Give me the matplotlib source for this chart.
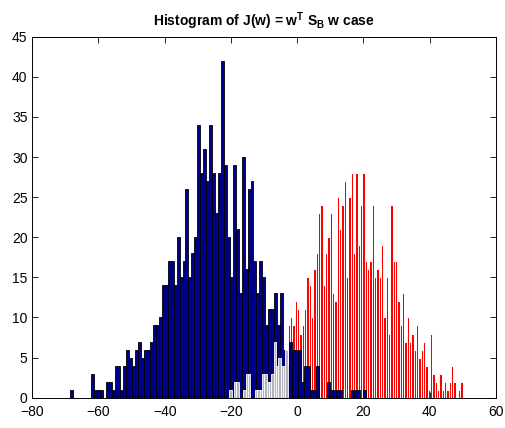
import numpy as np
import matplotlib
matplotlib.use("Agg")
from matplotlib import pyplot as plt

# histogram counts, 100 bins each
blue_range = (-68.55, 20.75)
blue_counts = [1, 0, 0, 0, 0, 0, 0, 3, 1, 1,
               1, 0, 2, 2, 1, 4, 4, 1, 4, 6,
               5, 4, 6, 7, 5, 6, 6, 7, 9, 9,
               10, 14, 14, 17, 17, 14, 20, 15, 17, 26,
               15, 18, 20, 34, 28, 31, 27, 34, 28, 23,
               28, 42, 29, 20, 15, 29, 21, 13, 30, 16,
               26, 27, 17, 13, 17, 15, 9, 11, 11, 13,
               9, 13, 6, 4, 7, 6, 6, 6, 2, 4,
               4, 1, 1, 4, 0, 0, 0, 2, 1, 1,
               1, 1, 0, 0, 0, 1, 1, 1, 0, 1]

red_range = (-20.45, 50.05)
red_counts = [1, 0, 2, 2, 0, 0, 1, 3, 3, 0,
              0, 1, 1, 1, 3, 3, 2, 2, 3, 7,
              4, 5, 4, 4, 6, 9, 10, 9, 12, 11,
              8, 9, 11, 15, 14, 10, 16, 18, 23, 24,
              14, 18, 20, 23, 13, 12, 25, 21, 24, 27,
              15, 25, 28, 18, 28, 19, 24, 28, 17, 16,
              17, 24, 15, 16, 15, 19, 10, 15, 8, 24,
              17, 17, 12, 9, 13, 7, 10, 7, 8, 6,
              9, 5, 6, 7, 4, 1, 8, 3, 2, 1,
              3, 1, 2, 1, 2, 4, 2, 0, 1, 2]

x_ticks = [-80, -60, -40, -20, 0, 20, 40, 60]
y_ticks = [0, 5, 10, 15, 20, 25, 30, 35, 40, 45]

plt.rcParams['font.family'] = ['Liberation Sans', 'DejaVu Sans']
plt.rcParams['mathtext.fontset'] = 'custom'
plt.rcParams['mathtext.rm'] = 'Liberation Sans'
plt.rcParams['mathtext.bf'] = 'Liberation Sans:bold'

fig = plt.figure(figsize=(5.06, 4.28), dpi=100)
ax = fig.add_axes([0.0638, 0.0708, 0.9159, 0.8435])

be = np.linspace(blue_range[0], blue_range[1], len(blue_counts) + 1)
re = np.linspace(red_range[0], red_range[1], len(red_counts) + 1)
red_counts = np.array(red_counts)

# red one under the blue one
ax.bar(re[:-1], red_counts, width=np.diff(re), align='edge',
       color='red', edgecolor='white', linewidth=0.7, zorder=1)
ax.bar(be[:-1], blue_counts, width=np.diff(be), align='edge',
       color='#00008f', edgecolor='black', linewidth=0.6, zorder=2)

# where the red bins sit inside the blue mass they show up greyish
rc = (re[:-1] + re[1:]) / 2
over = rc < -3
ax.bar(re[:-1][over], red_counts[over], width=np.diff(re)[over], align='edge',
       color='#b4b4bc', edgecolor='white', linewidth=0.6, zorder=3)

ax.set_xlim(-80, 60)
ax.set_ylim(0, 45)
ax.set_xticks(x_ticks)
ax.set_yticks(y_ticks)
ax.tick_params(direction='in', length=4, width=0.6, top=True, right=True,
               labelsize=10)
ax.tick_params(axis='x', pad=5.5)
ax.tick_params(axis='y', pad=3.5)
for s in ax.spines.values():
    s.set_linewidth(0.7)
ax.set_title(r'Histogram of J(w) = w$^{\mathbf{T}}$ S$_{\mathbf{B}}$ w case',
             fontsize=10, fontweight='bold', pad=8)

fig.savefig('out.png', dpi=100)
